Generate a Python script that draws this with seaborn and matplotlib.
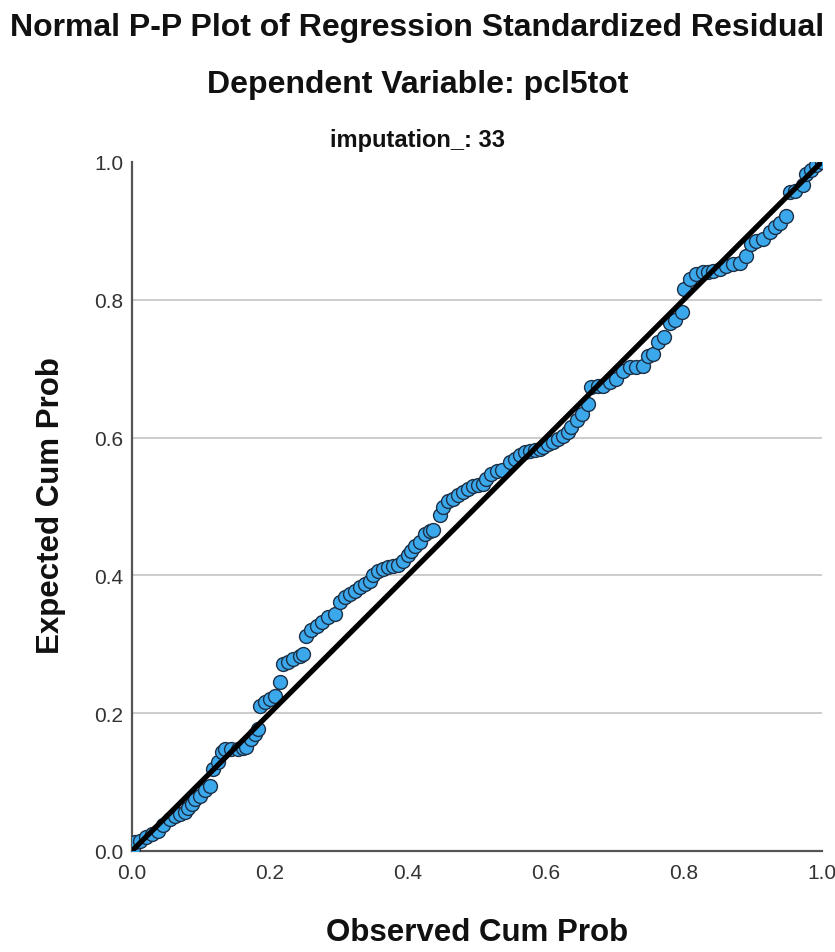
import numpy as np
import pandas as pd
import matplotlib
matplotlib.use("Agg")
import matplotlib.pyplot as plt
import seaborn as sns

# observed vs expected cumulative probabilities
observed = [
    0.001, 0.004, 0.012, 0.021, 0.029, 0.038, 0.045, 0.055, 0.062, 0.070,
    0.077, 0.082, 0.087, 0.091, 0.099, 0.106, 0.113, 0.118, 0.125, 0.130,
    0.135, 0.144, 0.154, 0.161, 0.166, 0.173, 0.178, 0.183, 0.186, 0.193,
    0.200, 0.207, 0.214, 0.219, 0.227, 0.234, 0.243, 0.248, 0.253, 0.260,
    0.268, 0.275, 0.284, 0.294, 0.301, 0.309, 0.316, 0.323, 0.330, 0.338,
    0.345, 0.350, 0.357, 0.364, 0.371, 0.379, 0.386, 0.393, 0.400, 0.405,
    0.410, 0.417, 0.425, 0.432, 0.437, 0.446, 0.451, 0.458, 0.466, 0.473,
    0.480, 0.487, 0.495, 0.502, 0.509, 0.514, 0.521, 0.529, 0.536, 0.548,
    0.555, 0.562, 0.570, 0.577, 0.584, 0.591, 0.596, 0.603, 0.611, 0.618,
    0.625, 0.632, 0.637, 0.645, 0.652, 0.661, 0.666, 0.676, 0.683, 0.693,
    0.702, 0.712, 0.722, 0.731, 0.741, 0.748, 0.756, 0.763, 0.772, 0.780,
    0.787, 0.797, 0.801, 0.809, 0.818, 0.828, 0.835, 0.842, 0.852, 0.862,
    0.871, 0.881, 0.891, 0.898, 0.905, 0.915, 0.925, 0.932, 0.939, 0.949,
    0.954, 0.961, 0.973, 0.978, 0.985, 0.992, 1.000,
]
expected = [
    0.003, 0.013, 0.015, 0.020, 0.025, 0.029, 0.037, 0.046, 0.051, 0.054,
    0.056, 0.063, 0.068, 0.075, 0.080, 0.088, 0.095, 0.119, 0.129, 0.143,
    0.148, 0.148, 0.148, 0.149, 0.151, 0.163, 0.170, 0.177, 0.211, 0.216,
    0.221, 0.225, 0.245, 0.271, 0.274, 0.279, 0.283, 0.286, 0.312, 0.320,
    0.327, 0.332, 0.339, 0.344, 0.361, 0.368, 0.373, 0.378, 0.383, 0.388,
    0.392, 0.400, 0.407, 0.409, 0.412, 0.414, 0.415, 0.421, 0.429, 0.436,
    0.443, 0.448, 0.460, 0.465, 0.466, 0.487, 0.499, 0.508, 0.511, 0.516,
    0.521, 0.525, 0.530, 0.531, 0.533, 0.540, 0.547, 0.552, 0.553, 0.564,
    0.569, 0.574, 0.579, 0.581, 0.582, 0.583, 0.586, 0.591, 0.593, 0.598,
    0.603, 0.608, 0.615, 0.625, 0.634, 0.649, 0.673, 0.675, 0.675, 0.680,
    0.685, 0.697, 0.702, 0.703, 0.704, 0.719, 0.721, 0.738, 0.746, 0.767,
    0.770, 0.782, 0.816, 0.830, 0.837, 0.840, 0.841, 0.842, 0.845, 0.849,
    0.852, 0.854, 0.864, 0.881, 0.886, 0.888, 0.898, 0.905, 0.912, 0.922,
    0.956, 0.958, 0.966, 0.983, 0.988, 0.995, 1.000,
]
ref_line = [0.0, 1.0]
tick_vals = [0.0, 0.2, 0.4, 0.6, 0.8, 1.0]

sns.set_style("white")
plt.rcParams["font.family"] = ["Liberation Sans", "DejaVu Sans"]

df = pd.DataFrame({"observed": observed, "expected": expected})

fig = plt.figure(figsize=(8.35, 9.53), dpi=100)
ax = fig.add_axes([0.158, 0.106, 0.826, 0.723])

sns.scatterplot(
    data=df, x="observed", y="expected", ax=ax,
    s=100, color="#3BA8EC", edgecolor="#1c2f45", linewidth=1.0,
    zorder=3, legend=False,
)
sns.lineplot(x=ref_line, y=ref_line, ax=ax, color="black", lw=3.8, zorder=4)

ax.set_xlim(0, 1)
ax.set_ylim(0, 1)
ax.set_xticks(tick_vals)
ax.set_yticks(tick_vals)
ax.set_xticklabels([f"{v:.1f}" for v in tick_vals])
ax.set_yticklabels([f"{v:.1f}" for v in tick_vals])
ax.tick_params(axis="both", length=0, labelsize=15, colors="#333333")
ax.tick_params(axis="x", pad=9)
ax.tick_params(axis="y", pad=6)

ax.yaxis.grid(True, color="#c8c8c8", lw=1.3)
ax.xaxis.grid(False)
ygrid = ax.get_ygridlines()
ygrid[0].set_visible(False)
ygrid[-1].set_visible(False)
ax.set_axisbelow(True)

for side in ["top", "right"]:
    ax.spines[side].set_visible(False)
for side in ["left", "bottom"]:
    ax.spines[side].set_color("#555555")
    ax.spines[side].set_linewidth(1.6)

# axis titles sit centred on the plot area, the chart titles on the figure
ax.set_xlabel("")
ax.set_ylabel("")
fig.text(0.571, 0.021, "Observed Cum Prob", ha="center", va="center",
         fontsize=22.5, fontweight="bold", color="#111111")
fig.text(0.061, 0.47, "Expected Cum Prob", ha="center", va="center",
         rotation=90, fontsize=22.5, fontweight="bold", color="#111111")

fig.text(0.5, 0.971, "Normal P-P Plot of Regression Standardized Residual",
         ha="center", va="center", fontsize=23, fontweight="bold", color="#111111")
fig.text(0.5, 0.911, "Dependent Variable: pcl5tot",
         ha="center", va="center", fontsize=23, fontweight="bold", color="#111111")
fig.text(0.5, 0.853, "imputation_: 33",
         ha="center", va="center", fontsize=17, fontweight="bold", color="#111111")

fig.savefig("out.png", dpi=100)
plt.close(fig)
